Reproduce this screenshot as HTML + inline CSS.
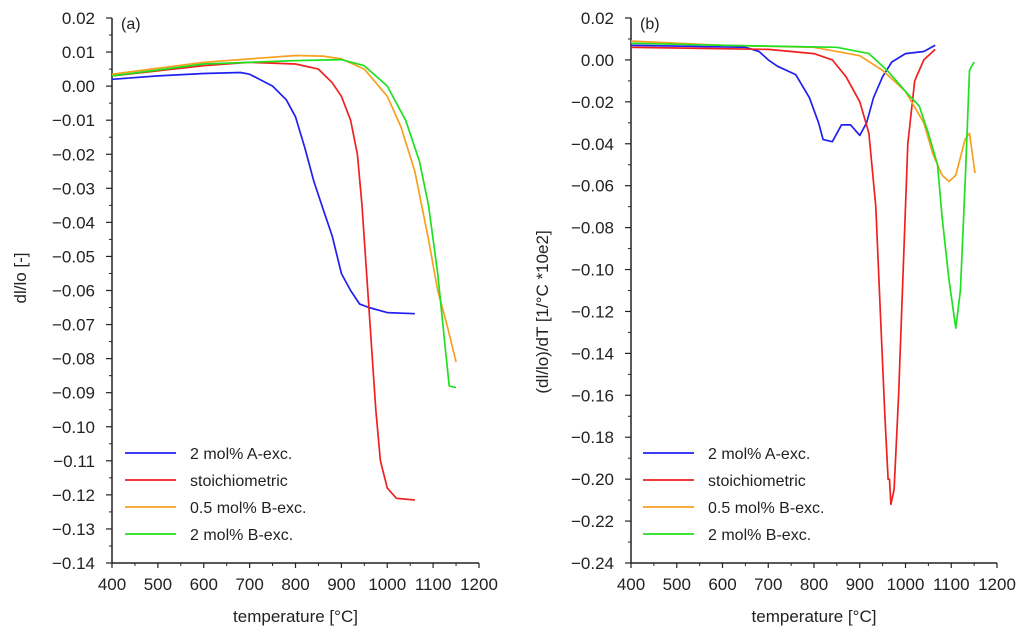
<!DOCTYPE html>
<html><head><meta charset="utf-8"><style>
body{margin:0;background:#fff;width:1024px;height:634px;overflow:hidden}
svg{display:block;font-family:"Liberation Sans",sans-serif}
</style></head><body>
<svg id="chart" width="1024" height="634" viewBox="0 0 1024 634"></svg>
<script>
const xTicks=[400,500,600,700,800,900,1000,1100,1200];
const yTicksA=[0.02,0.01,0,-0.01,-0.02,-0.03,-0.04,-0.05,-0.06,-0.07,-0.08,-0.09,-0.10,-0.11,-0.12,-0.13,-0.14];
const yTicksB=[0.02,0,-0.02,-0.04,-0.06,-0.08,-0.10,-0.12,-0.14,-0.16,-0.18,-0.20,-0.22,-0.24];
const seriesNames=["2 mol% A-exc.","stoichiometric","0.5 mol% B-exc.","2 mol% B-exc."];
const seriesColors=["#2020f0","#f02020","#f8a020","#20e020"];
const aBlue=[[400,0.002],[500,0.003],[600,0.0037],[680,0.004],[700,0.0035],[750,0.0],[780,-0.004],[800,-0.009],[820,-0.018],[840,-0.028],[860,-0.036],[880,-0.044],[900,-0.055],[920,-0.060],[940,-0.064],[960,-0.065],[1000,-0.0665],[1060,-0.0668]];
const aRed=[[400,0.003],[600,0.006],[700,0.007],[800,0.0065],[850,0.005],[880,0.001],[900,-0.003],[920,-0.01],[935,-0.02],[945,-0.035],[955,-0.055],[965,-0.075],[975,-0.095],[985,-0.11],[1000,-0.118],[1020,-0.121],[1060,-0.1215]];
const aOrange=[[400,0.0035],[600,0.007],[800,0.009],[860,0.0088],[900,0.008],[950,0.005],[1000,-0.003],[1030,-0.012],[1060,-0.025],[1090,-0.045],[1110,-0.06],[1130,-0.07],[1150,-0.081]];
const aGreen=[[400,0.003],[600,0.0065],[800,0.0075],[900,0.0078],[950,0.006],[1000,0.0],[1040,-0.01],[1070,-0.022],[1090,-0.035],[1110,-0.055],[1125,-0.075],[1135,-0.088],[1150,-0.0885]];
const bBlue=[[400,0.007],[650,0.006],[680,0.004],[700,0.0],[720,-0.003],[760,-0.007],[790,-0.018],[810,-0.03],[820,-0.038],[840,-0.039],[860,-0.031],[880,-0.031],[900,-0.036],[915,-0.03],[930,-0.018],[950,-0.008],[970,-0.001],[1000,0.003],[1040,0.004],[1065,0.007]];
const bRed=[[400,0.006],[700,0.005],[800,0.003],[840,0.0],[870,-0.008],[900,-0.02],[920,-0.035],[935,-0.07],[945,-0.12],[955,-0.17],[962,-0.2],[965,-0.2],[968,-0.212],[975,-0.205],[985,-0.16],[995,-0.1],[1005,-0.04],[1020,-0.01],[1040,0.0],[1065,0.005]];
const bOrange=[[400,0.009],[600,0.007],[800,0.006],[900,0.002],[950,-0.005],[1000,-0.015],[1040,-0.03],[1060,-0.045],[1080,-0.055],[1095,-0.058],[1110,-0.055],[1130,-0.038],[1140,-0.035],[1152,-0.054]];
const bGreen=[[400,0.008],[600,0.007],[850,0.006],[920,0.003],[960,-0.005],[1000,-0.015],[1030,-0.022],[1050,-0.035],[1070,-0.05],[1080,-0.075],[1095,-0.105],[1110,-0.128],[1120,-0.11],[1130,-0.06],[1140,-0.005],[1150,-0.001]];

const NS="http://www.w3.org/2000/svg";
const svg=document.getElementById('chart');
function mk(tag,attrs,parent){const e=document.createElementNS(NS,tag);for(const k in attrs)e.setAttribute(k,attrs[k]);(parent||svg).appendChild(e);return e;}
function fmt(v,d){const s=Math.abs(v).toFixed(d);return (v<-1e-9?'\u2212':'')+s;}

function panel(cfg){
  const g=mk('g',{});
  
  
  const X=t=>cfg.x0+(t-400)/800*(cfg.x1-cfg.x0);
  const Y=v=>cfg.y0+(cfg.ymax-v)/(cfg.ymax-cfg.ymin)*(cfg.y1-cfg.y0);
  const ax=mk('path',{d:`M${cfg.x0},${cfg.y0}V${cfg.y1}H${cfg.x1}`,stroke:'#222',fill:'none','stroke-width':1.5},g);
  
  const ys=cfg.yTicks;const step=ys[0]-ys[1];
  ys.forEach((v,i)=>{
    const y=Y(v);
    mk('line',{x1:cfg.x0-6,x2:cfg.x0,y1:y,y2:y,stroke:'#222','stroke-width':1.2},g);
    if(i<ys.length-1){const ym=Y(v-step/2);mk('line',{x1:cfg.x0-3,x2:cfg.x0,y1:ym,y2:ym,stroke:'#222','stroke-width':1},g);}
    const t=mk('text',{x:cfg.x0-17,y:y+6,'text-anchor':'end','font-size':17,fill:'#222'},g);
    t.textContent=fmt(v,2);
    
  });
  xTicks.forEach((v,i)=>{
    const x=X(v);
    mk('line',{x1:x,x2:x,y1:cfg.y1,y2:cfg.y1+5,stroke:'#222','stroke-width':1.2},g);
    if(i<xTicks.length-1){const xm=X(v+50);mk('line',{x1:xm,x2:xm,y1:cfg.y1,y2:cfg.y1+3,stroke:'#222','stroke-width':1},g);}
    const t=mk('text',{x:x,y:cfg.y1+27,'text-anchor':'middle','font-size':17,fill:'#222'},g);
    t.textContent=v;
    
  });
  const xt=mk('text',{x:(cfg.x0+cfg.x1)/2,y:cfg.y1+59,'text-anchor':'middle','font-size':17,fill:'#222'},g);
  xt.textContent='temperature [°C]';
  
  const yt=mk('text',{x:0,y:0,'text-anchor':'middle','font-size':17,fill:'#222',transform:`translate(${cfg.ytx},${cfg.yty}) rotate(-90)`},g);
  yt.textContent=cfg.ytitle;
  
  const pl=mk('text',{x:cfg.x0+9,y:cfg.y0+11,'font-size':16,fill:'#222'},g);
  pl.textContent=cfg.label;
  
  cfg.series.forEach((s,i)=>{
    const d=s.map((p,j)=>(j?'L':'M')+X(p[0]).toFixed(1)+','+Y(p[1]).toFixed(1)).join('');
    const p=mk('path',{d:d,stroke:seriesColors[i],fill:'none','stroke-width':1.7,'stroke-linejoin':'round'},g);
    
    
  });
  seriesNames.forEach((n,i)=>{
    const y=cfg.legY+i*27;
    const l=mk('line',{x1:cfg.legX,x2:cfg.legX+51,y1:y,y2:y,stroke:seriesColors[i],'stroke-width':1.7},g);
    
    const t=mk('text',{x:cfg.legX+65,y:y+6,'font-size':16,fill:'#222'},g);
    t.textContent=n;
    
  });
}
panel({name:'panel-a',x0:112,x1:479,y0:18,y1:563,ymax:0.02,ymin:-0.14,yTicks:yTicksA,ytitle:'dl/lo [-]',ytx:26,yty:278,label:'(a)',legX:125,legY:453,series:[aBlue,aRed,aOrange,aGreen]});
panel({name:'panel-b',x0:631,x1:997,y0:18,y1:563,ymax:0.02,ymin:-0.24,yTicks:yTicksB,ytitle:'(dl/lo)/dT [1/°C *10e2]',ytx:548,yty:312,label:'(b)',legX:643,legY:453,series:[bBlue,bRed,bOrange,bGreen]});
</script>
</body></html>
